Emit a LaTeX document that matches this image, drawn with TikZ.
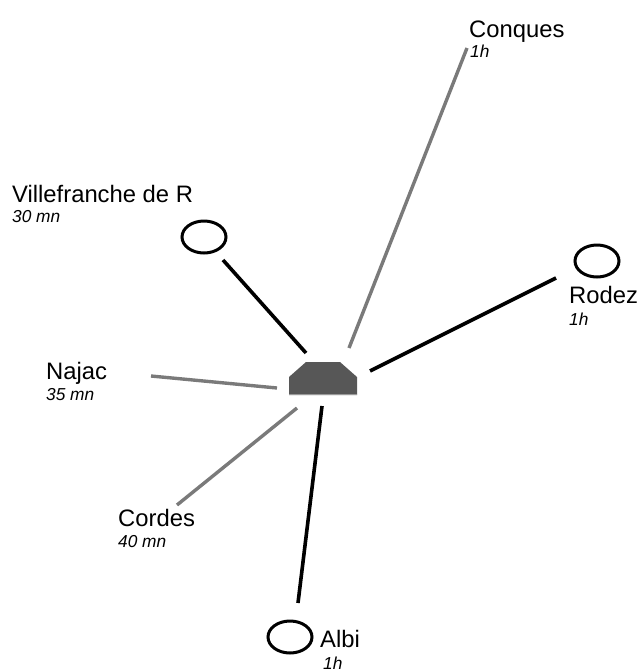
\documentclass[tikz,border=0pt]{standalone}
\usepackage{fontspec}
\setmainfont{Liberation Sans}
\begin{document}
\begin{tikzpicture}[x=1pt,y=-1pt,
  town/.style={draw=black,line width=3pt},
  bigtxt/.style={anchor=base west,inner sep=0pt,font=\fontsize{23.8}{28}\selectfont},
  smalltxt/.style={anchor=base west,inner sep=0pt,font=\fontsize{17.3}{20}\selectfont\itshape},
  blackroad/.style={draw=black,line width=3.6pt},
  grayroad/.style={draw=black!52,line width=3.4pt}]
\useasboundingbox (0,0) rectangle (641,670);
% hub
\fill[black!66] (289,395) -- (289,377) -- (306,362) -- (340,362) -- (357,377) -- (357,395) -- cycle;
\draw[black!40,line width=1pt] (289,394.5) -- (357,394.5);
% towns (circles)
\draw[town] (204,237) ellipse [x radius=22, y radius=16];
\draw[town] (597,261) ellipse [x radius=22, y radius=16];
\draw[town] (290,637) ellipse [x radius=22, y radius=16];
% road endpoints
\coordinate (vA) at (223,260); \coordinate (vB) at (306,353);
\coordinate (cA) at (467,48);  \coordinate (cB) at (349,348);
\coordinate (rA) at (556,278); \coordinate (rB) at (370,371);
\coordinate (nA) at (151,376); \coordinate (nB) at (277,388);
\coordinate (dA) at (177,505); \coordinate (dB) at (297,408);
\coordinate (aA) at (298,603); \coordinate (aB) at (322,406);
\draw[blackroad] (vA) -- (vB);
\draw[grayroad] (cA) -- (cB);
\draw[blackroad] (rA) -- (rB);
\draw[grayroad] (nA) -- (nB);
\draw[grayroad] (dA) -- (dB);
\draw[blackroad] (aA) -- (aB);
% labels
\node[bigtxt] (vt) at (12,202) {Villefranche de R};
\node[smalltxt] (vs) at (12,222) {30 mn};
\node[bigtxt] (ct) at (469,37) {Conques};
\node[smalltxt] (cs) at (470,57) {1h};
\node[bigtxt] (rt) at (569,303) {Rodez};
\node[smalltxt] (rs) at (569,325) {1h};
\node[bigtxt] (nt) at (46,379) {Najac};
\node[smalltxt] (ns) at (46,400) {35 mn};
\node[bigtxt] (dt) at (118,526) {Cordes};
\node[smalltxt] (ds) at (118,547) {40 mn};
\node[bigtxt] (at) at (320,647) {Albi};
\node[smalltxt] (as) at (323,669) {1h};
\end{tikzpicture}
\end{document}
